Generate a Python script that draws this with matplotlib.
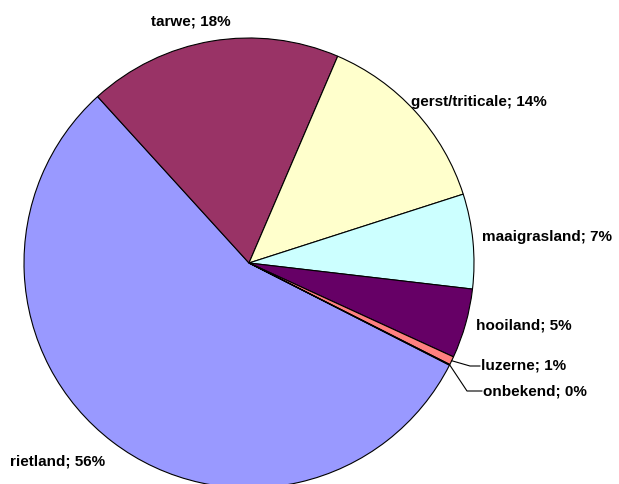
import numpy as np
import matplotlib.pyplot as plt

labels = ['rietland', 'tarwe', 'gerst/triticale', 'maaigrasland', 'hooiland', 'luzerne', 'onbekend']
values = [55.75, 18.2, 13.6, 6.8, 5.0, 0.6, 0.05]
colors = ['#9999FF', '#993366', '#FFFFCC', '#CCFFFF', '#660066', '#FF8080', '#0066CC']

W, H = 619, 484
cx, cy, R = 249, 263, 225   # pie centre / radius in pixels

fig = plt.figure(figsize=(W / 100, H / 100), dpi=100)
ax = fig.add_axes([(cx - R) / W, (H - cy - R) / H, 2 * R / W, 2 * R / H])

wedges, _ = ax.pie(values, colors=colors, startangle=90 - 117, counterclock=False,
                   radius=1, wedgeprops=dict(edgecolor='black', linewidth=0.8))
for w in wedges:
    w.set_clip_on(False)
ax.set_xlim(-1, 1)
ax.set_ylim(-1, 1)
ax.set_aspect('auto')
ax.axis('off')

def px(x, y):
    # pixel -> data coords
    return (x - cx) / R, (cy - y) / R

# label anchor (left edge, vertical centre) in pixels
label_pos = {
    'rietland': (10, 461),
    'tarwe': (151, 21),
    'gerst/triticale': (411, 102),
    'maaigrasland': (482, 237),
    'hooiland': (476, 326),
    'luzerne': (481, 366),
    'onbekend': (483, 391),
}
elbows = {'luzerne': (470, 366), 'onbekend': (467, 391)}

total = sum(values)
for w, lab, v in zip(wedges, labels, values):
    pct = int(round(100 * v / total))
    x, y = px(*label_pos[lab])
    ax.text(x, y, f'{lab}; {pct}%', ha='left', va='center', fontsize=11,
            fontweight='bold', family=['Liberation Sans', 'DejaVu Sans'], clip_on=False)
    if lab in elbows:
        ang = np.deg2rad((w.theta1 + w.theta2) / 2)
        sx, sy = np.cos(ang), np.sin(ang)
        ex, ey = px(*elbows[lab])
        ax.plot([sx, ex, x - 0.005], [sy, ey, y], color='black', lw=0.8, clip_on=False)

fig.savefig('out.png', dpi=100)
